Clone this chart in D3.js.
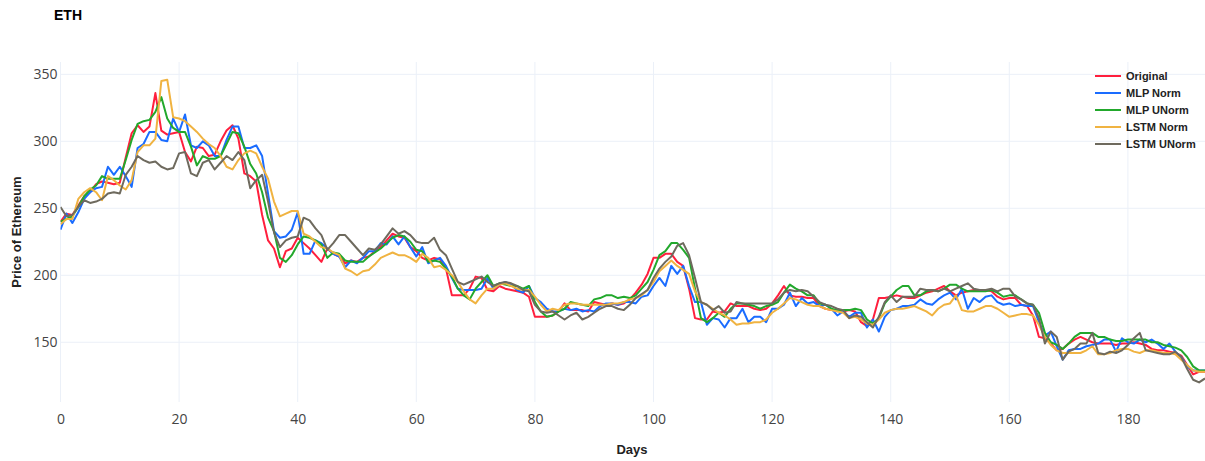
<!DOCTYPE html>
<html><head><meta charset="utf-8">
<script src="https://cdn.jsdelivr.net/npm/d3@7"></script>
<style>body{margin:0;background:#fff}svg{display:block}</style>
</head><body><div id="chart"></div>
<script>
const seriesNames = ["Original","MLP Norm","MLP UNorm","LSTM Norm","LSTM UNorm"];
const seriesColors = ["#ff1f3d","#1a6cff","#22a82c","#f0b341","#6e6a5e"];
const xTicks = [0,20,40,60,80,100,120,140,160,180];
const yTicks = [150,200,250,300,350];

const original = [240,246,245,252,259,262,268,270,269,268,269,288,306,312,307,311,336,308,
305,306,307,292,285,296,295,289,290,
300,308,312,302,276,274,270,245,226,
220,206,218,220,228,224,220,215,210,220,216,214,209,211,210,213,214,218,221,226,231,229,228,221,218,213,211,213,212,205,185,185,185,190,199,198,189,188,192,190,189,188,187,184,169,169,169,170,173,179,174,174,174,173,180,179,178,179,178,179,182,187,193,201,213,213,216,216,210,207,190,168,167,167,173,172,173,179,177,177,177,175,174,175,179,185,192,185,184,184,183,183,177,175,174,174,173,174,173,165,162,167,183,183,184,185,184,183,183,185,187,188,190,192,188,185,187,188,189,189,189,188,184,182,183,183,178,177,170,154,
153,149,144,145,149,152,154,152,150,149,149,149,148,149,149,150,149,148,145,144,144,143,142,140,133,126,128,128];
const mlpNorm = [234,246,239,247,257,262,265,266,281,275,281,274,266,295,298,307,307,301,
300,317,307,320,297,295,300,297,289,289,301,311,311,295,295,297,289,261,
233,228,229,234,247,216,216,226,224,220,216,214,206,211,209,213,218,218,224,223,229,223,229,221,214,221,209,211,213,207,198,190,189,189,189,190,198,190,193,195,193,189,187,192,183,180,175,173,173,175,174,175,173,174,173,177,179,179,178,180,180,179,184,185,192,198,192,207,201,207,192,180,180,163,168,167,161,168,168,175,165,169,169,165,175,175,178,187,177,183,179,180,177,178,175,170,173,169,172,172,161,167,158,169,174,175,177,177,178,182,179,178,182,185,187,182,190,175,183,180,184,185,180,178,179,177,178,177,177,165,
155,158,147,137,144,145,145,147,148,149,152,152,143,153,150,149,152,150,152,149,145,149,143,139,132,129,129,129];
const mlpUNorm = [240,242,244,251,259,264,267,274,272,272,272,286,301,313,315,316,322,333,
317,310,307,307,296,282,289,287,287,289,298,307,306,296,283,276,262,243,
233,213,210,215,223,229,228,226,223,213,217,216,211,210,210,210,214,217,220,224,228,230,229,225,219,218,210,211,210,205,199,190,185,182,190,195,200,192,194,193,192,192,190,192,180,173,169,170,173,175,180,179,178,177,182,183,185,185,183,184,183,185,190,195,204,215,218,224,224,219,213,190,168,165,168,172,169,175,179,179,178,177,175,177,178,180,187,193,190,188,185,185,179,178,175,174,174,174,175,174,167,164,168,179,184,189,192,192,185,185,188,189,188,190,193,193,190,188,188,188,188,189,187,184,185,185,182,179,178,172,
157,150,148,145,149,154,157,157,157,154,154,152,151,151,152,152,152,152,150,150,148,147,146,144,139,132,129,129];
const lstmNorm = [238,242,242,257,262,265,262,256,274,271,267,264,271,292,297,297,302,345,
346,318,317,315,311,307,302,298,295,289,281,279,286,291,293,291,281,272,
255,244,246,248,248,231,229,225,221,220,217,215,205,203,200,203,204,208,213,215,217,215,215,213,210,216,213,206,207,204,200,195,188,182,179,185,190,190,193,194,192,190,189,189,184,178,173,175,174,178,179,179,178,178,178,178,178,179,179,180,182,183,185,189,195,203,207,211,207,204,201,188,180,178,175,172,170,167,163,164,164,165,165,167,172,175,179,183,182,180,178,177,177,175,174,173,172,168,169,167,164,163,167,172,174,175,175,176,177,175,173,170,175,178,179,185,174,173,173,175,177,177,175,172,169,170,171,171,170,163,
154,148,144,142,142,142,142,144,147,141,141,142,144,145,145,143,142,144,144,143,142,142,141,137,133,129,128,128];
const lstmUNorm = [251,244,245,251,256,254,255,257,261,262,261,275,281,289,286,284,285,281,
279,280,291,292,276,274,284,286,279,284,289,286,292,286,265,271,275,255,
232,221,226,228,229,243,241,235,230,219,224,230,230,225,220,215,220,219,223,229,235,231,233,230,225,224,224,228,219,215,205,195,193,195,197,199,195,192,194,195,194,192,189,188,178,173,172,173,170,167,170,172,167,169,172,175,177,177,175,174,178,183,186,189,198,205,210,214,222,224,215,198,180,178,174,177,172,173,180,179,179,179,179,179,179,182,187,189,188,189,188,184,180,178,177,175,174,168,170,169,165,161,169,180,185,180,184,184,184,190,189,189,188,190,188,190,192,194,190,189,189,190,188,190,190,184,182,179,178,168,
149,158,154,137,143,145,149,149,157,142,141,143,142,144,148,153,157,144,143,142,141,141,143,139,130,122,120,123];

const seriesValues = [original, mlpNorm, mlpUNorm, lstmNorm, lstmUNorm];

const W = 1205, H = 461;
const m = {left: 60.5, right: 0, top: 62, bottom: 59};
const svg = d3.select("#chart").append("svg").attr("width", W).attr("height", H);

const x = d3.scaleLinear().domain([0, original.length - 1]).range([m.left, W - m.right]);
const y = d3.scaleLinear().domain([105.4, 359.2]).range([H - m.bottom, m.top]);

const grid = svg.append("g");
grid.selectAll("line.gx").data(xTicks).join("line")
  .attr("x1", d => x(d)).attr("x2", d => x(d))
  .attr("y1", m.top).attr("y2", H - m.bottom)
  .attr("stroke", "#ebf0f8").attr("stroke-width", 1);
grid.selectAll("line.gy").data(yTicks).join("line")
  .attr("x1", m.left).attr("x2", W - m.right)
  .attr("y1", d => y(d)).attr("y2", d => y(d))
  .attr("stroke", "#ebf0f8").attr("stroke-width", 1);

const xAxis = svg.append("g").attr("transform", `translate(0,${H - m.bottom})`)
  .call(d3.axisBottom(x).tickValues(xTicks).tickSize(0).tickPadding(12));
const yAxis = svg.append("g").attr("transform", `translate(${m.left},0)`)
  .call(d3.axisLeft(y).tickValues(yTicks).tickSize(0).tickPadding(3));
[xAxis, yAxis].forEach(a => {
  a.select(".domain").remove();
  a.selectAll("text").attr("font-family", "'Open Sans', sans-serif").attr("font-size", 14).attr("fill", "#444");
});

const line = d3.line().x((d, i) => x(i)).y(d => y(d));
const clip = svg.append("clipPath").attr("id", "clip").append("rect")
  .attr("x", m.left).attr("y", m.top).attr("width", W - m.left - m.right).attr("height", H - m.top - m.bottom);
const lines = svg.append("g").attr("clip-path", "url(#clip)");
seriesValues.forEach((vals, k) => {
  lines.append("path").datum(vals).attr("d", line)
    .attr("fill", "none").attr("stroke", seriesColors[k]).attr("stroke-width", 2)
    .attr("stroke-linejoin", "round");
});

svg.append("text").attr("x", 54).attr("y", 20).text("ETH")
  .attr("font-family", "'Liberation Sans', Arial, sans-serif").attr("font-weight", "bold").attr("font-size", 14).attr("fill", "#000");
svg.append("text").attr("x", 632).attr("y", 454).attr("text-anchor", "middle").text("Days")
  .attr("font-family", "'Liberation Sans', Arial, sans-serif").attr("font-weight", "bold").attr("font-size", 13).attr("fill", "#222");
svg.append("text").attr("transform", `translate(21,${(m.top + H - m.bottom) / 2}) rotate(-90)`)
  .attr("text-anchor", "middle").text("Price of Ethereum")
  .attr("font-family", "'Liberation Sans', Arial, sans-serif").attr("font-weight", "bold").attr("font-size", 13).attr("fill", "#222");

const legend = svg.append("g").attr("transform", "translate(1095,76)");
seriesNames.forEach((name, k) => {
  const g = legend.append("g").attr("transform", `translate(0,${k * 17})`);
  g.append("line").attr("x1", 0).attr("x2", 26).attr("y1", 0).attr("y2", 0)
    .attr("stroke", seriesColors[k]).attr("stroke-width", 2);
  g.append("text").attr("x", 31).attr("y", 4).text(name)
    .attr("font-family", "'Liberation Sans', Arial, sans-serif").attr("font-weight", "bold").attr("font-size", 11).attr("fill", "#222");
});
</script>
</body></html>
